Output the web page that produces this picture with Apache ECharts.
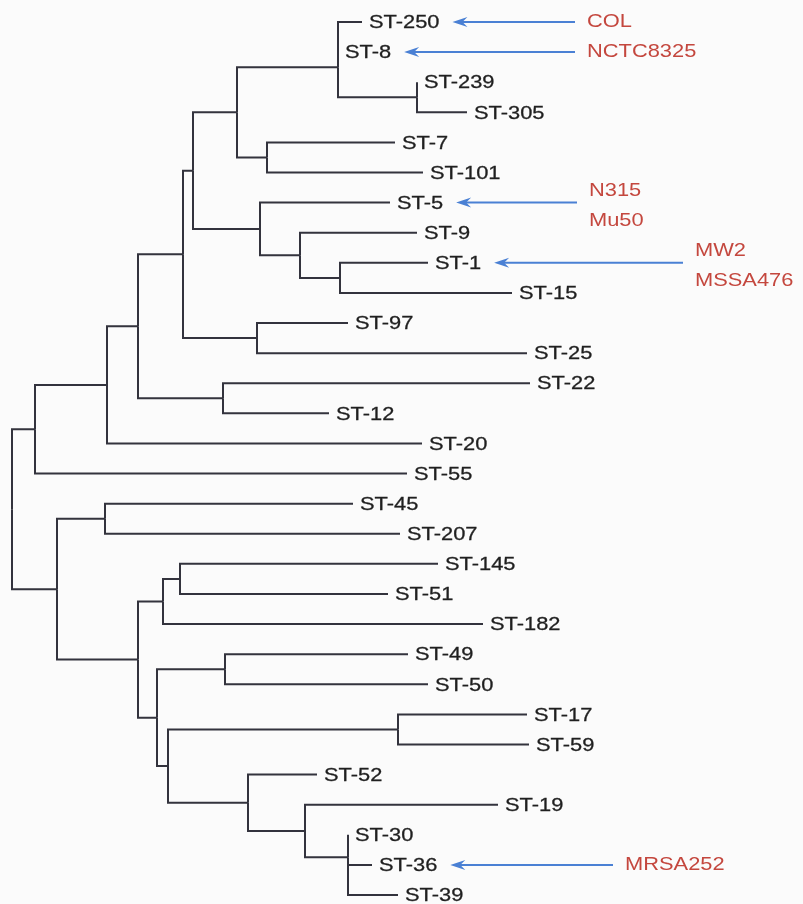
<!DOCTYPE html>
<html>
<head>
<meta charset="utf-8">
<script src="https://cdn.jsdelivr.net/npm/echarts@6/dist/echarts.min.js"></script>
<style>
  html, body { margin: 0; padding: 0; background: #fbfbfb; }
  #tree { width: 803px; height: 904px; }
</style>
</head>
<body>
<div id="tree"></div>
<script>
// leaves, top to bottom, with their tip depth (distance from root)
var leafNames = ['ST-250', 'ST-8', 'ST-239', 'ST-305', 'ST-7', 'ST-101', 'ST-5', 'ST-9', 'ST-1', 'ST-15',
  'ST-97', 'ST-25', 'ST-22', 'ST-12', 'ST-20', 'ST-55', 'ST-45', 'ST-207', 'ST-145', 'ST-51',
  'ST-182', 'ST-49', 'ST-50', 'ST-17', 'ST-59', 'ST-52', 'ST-19', 'ST-30', 'ST-36', 'ST-39'];
var leafDepth = [350, 326, 405, 455, 383, 411, 378, 405, 416, 500,
  336, 515, 518, 317, 410, 395, 341, 388, 426, 376,
  471, 396, 416, 515, 517, 305, 486, 336, 360, 386];

// internal nodes (binary), their two children and depth
var cladeIds = ['c250_8', 'c239_305', 'c8grp', 'c7_101', 'c8all', 'c1_15', 'c9_1', 'c5_9', 'c5all', 'c97_25',
  'cCC1', 'c22_12', 'cCC1b', 'cCC1c', 'cTop', 'c45_207', 'c145_51', 'c145grp', 'c49_50', 'c17_59',
  'c36_39', 'c30grp', 'c19grp', 'c52grp', 'c17grp', 'c49grp', 'c145all', 'cBottom', 'root'];
var cladeChildren = [
  ['ST-250', 'ST-8'], ['ST-239', 'ST-305'], ['c250_8', 'c239_305'], ['ST-7', 'ST-101'], ['c8grp', 'c7_101'],
  ['ST-1', 'ST-15'], ['ST-9', 'c1_15'], ['ST-5', 'c9_1'], ['c8all', 'c5_9'], ['ST-97', 'ST-25'],
  ['c5all', 'c97_25'], ['ST-22', 'ST-12'], ['cCC1', 'c22_12'], ['cCC1b', 'ST-20'], ['cCC1c', 'ST-55'],
  ['ST-45', 'ST-207'], ['ST-145', 'ST-51'], ['c145_51', 'ST-182'], ['ST-49', 'ST-50'], ['ST-17', 'ST-59'],
  ['ST-36', 'ST-39'], ['ST-30', 'c36_39'], ['ST-19', 'c30grp'], ['ST-52', 'c19grp'], ['c17_59', 'c52grp'],
  ['c49_50', 'c17grp'], ['c145grp', 'c49grp'], ['c45_207', 'c145all'], ['cTop', 'cBottom']];
var cladeDepth = [326, 405, 326, 255, 225, 328, 288, 248, 181, 245,
  171, 211, 126, 95, 23, 93, 168, 151, 213, 386,
  336, 336, 293, 236, 156, 145, 126, 45, 0];

// strains marked with arrows
var strainLabels = ['COL', 'NCTC8325', 'N315\nMu50', 'MW2\nMSSA476', 'MRSA252'];
var strainST = ['ST-250', 'ST-8', 'ST-5', 'ST-1', 'ST-36'];
var arrowTail = [563, 563, 565, 671, 601];

var FONT = '"Liberation Sans", Arial, sans-serif';
var FONT_SIZE = 19;
var STRETCH = 1.15;

var depthOf = {}, yOf = {};
leafNames.forEach(function (n, i) { depthOf[n] = leafDepth[i]; yOf[n] = i; });
cladeIds.forEach(function (id, i) { depthOf[id] = cladeDepth[i]; });
function nodeY(id) {
  if (yOf[id] !== undefined) return yOf[id];
  var ch = cladeChildren[cladeIds.indexOf(id)];
  yOf[id] = (nodeY(ch[0]) + nodeY(ch[1])) / 2;
  return yOf[id];
}

var branchData = [];
cladeIds.forEach(function (id, i) {
  cladeChildren[i].forEach(function (c) {
    branchData.push([depthOf[id], nodeY(id), depthOf[c], nodeY(c)]);
  });
});
var leafData = leafNames.map(function (n, i) { return [leafDepth[i], i, n]; });
var strainData = strainST.map(function (st, i) {
  var li = leafNames.indexOf(st);
  return [leafDepth[li], li, arrowTail[i], strainLabels[i], st];
});

var ctx = document.createElement('canvas').getContext('2d');
ctx.font = FONT_SIZE + 'px ' + FONT;
function textW(s) { return ctx.measureText(s).width * STRETCH; }

var myChart = echarts.init(document.getElementById('tree'));
var option = {
  backgroundColor: '#fbfbfb',
  animation: false,
  grid: { left: 12, right: 0, top: 22, bottom: 9 },
  xAxis: { type: 'value', min: 0, max: 791, show: false },
  yAxis: { type: 'value', min: 0, max: 29, inverse: true, show: false },
  series: [
    {
      type: 'custom',
      name: 'branches',
      data: branchData,
      silent: true,
      renderItem: function (params, api) {
        var p = api.coord([api.value(0), api.value(1)]);
        var m = api.coord([api.value(0), api.value(3)]);
        var c = api.coord([api.value(2), api.value(3)]);
        return {
          type: 'polyline',
          shape: { points: [p, m, c] },
          style: { stroke: '#33333d', lineWidth: 2, fill: null }
        };
      }
    },
    {
      type: 'custom',
      name: 'leaves',
      data: leafData,
      silent: true,
      renderItem: function (params, api) {
        var p = api.coord([api.value(0), api.value(1)]);
        return {
          type: 'text',
          x: p[0] + 7,
          y: p[1] + 1,
          scaleX: STRETCH,
          style: {
            text: leafData[params.dataIndex][2],
            x: 0, y: 0,
            fill: '#1f1f1f',
            stroke: '#1f1f1f',
            lineWidth: 0.3,
            font: FONT_SIZE + 'px ' + FONT,
            verticalAlign: 'middle'
          }
        };
      }
    },
    {
      type: 'custom',
      name: 'strains',
      data: strainData,
      silent: true,
      renderItem: function (params, api) {
        var d = strainData[params.dataIndex];
        var p = api.coord([d[0], d[1]]);
        var tail = api.coord([d[2], d[1]]);
        var tip = p[0] + 7 + textW(d[4]) + 13;
        var y = p[1];
        var twoLines = d[3].indexOf('\n') >= 0;
        return {
          type: 'group',
          children: [
            {
              type: 'line',
              shape: { x1: tip + 8, y1: y, x2: tail[0], y2: y },
              style: { stroke: '#4a80d4', lineWidth: 2 }
            },
            {
              type: 'polygon',
              shape: { points: [[tip, y], [tip + 15, y - 5], [tip + 10, y], [tip + 15, y + 5]] },
              style: { fill: '#4a80d4' }
            },
            {
              type: 'text',
              x: tail[0] + 12,
              y: y + (twoLines ? 3 : 0),
              scaleX: STRETCH,
              style: {
                text: d[3],
                x: 0, y: 0,
                fill: '#c4473e',
                font: FONT_SIZE + 'px ' + FONT,
                lineHeight: 30,
                verticalAlign: 'middle'
              }
            }
          ]
        };
      }
    }
  ]
};
myChart.setOption(option);
</script>
</body>
</html>
